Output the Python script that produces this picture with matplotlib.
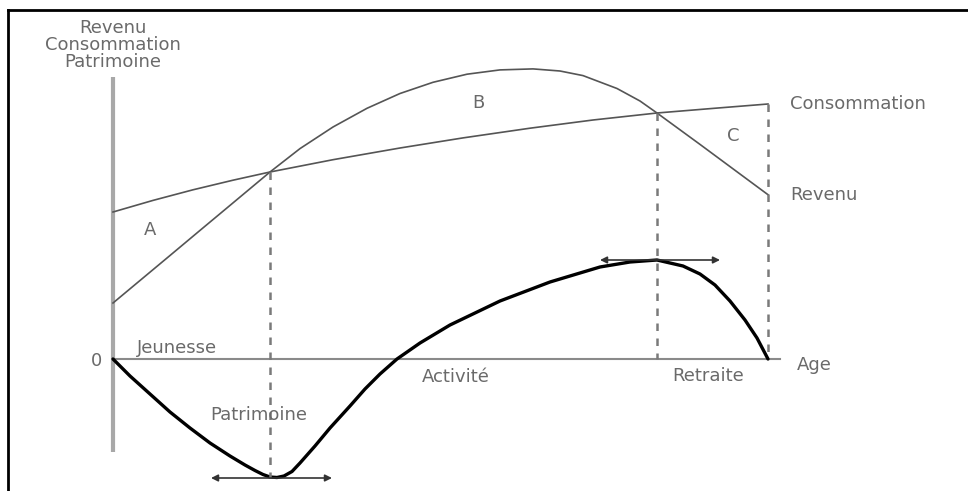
# Cycle de vie : revenu, consommation, patrimoine
import matplotlib.pyplot as plt
from matplotlib.lines import Line2D

age_conso = [0, 40, 80, 120, 157, 220, 287, 350, 417, 480, 544, 600, 655]
conso = [147, 158.6, 169.2, 178.8, 187, 199.3, 211, 221.1, 230.8, 239, 246, 250.6, 255]

age_revenu = [0, 27, 57, 87, 117, 137, 157, 187, 220, 254, 287, 320, 354, 387, 420, 447, 470, 504, 527, 544,
              587, 627, 655]
revenu = [56, 78.5, 103.5, 128.6, 153.6, 170.3, 187, 210.4, 232, 250.7, 265.5, 276.7, 284.8, 289.1, 290.1, 288,
          283.4, 270.5, 258, 246, 214.6, 185, 164.3]

age_patri = [0, 17, 37, 57, 77, 97, 117, 132, 142, 150, 157, 164, 171, 179, 187, 202, 217, 237, 252, 267, 284,
             307, 337, 387, 437, 487, 517, 544, 570, 587, 602, 617, 632, 644, 655]
patri = [0, -17, -35, -53, -69, -84, -97, -106, -111.5, -115.5, -118, -118.5, -117, -112.5, -104, -87, -69, -47,
         -30, -15, 0, 16, 34, 58, 77, 92, 97, 99, 93, 85, 74, 58, 39, 21, 0]

# Points remarquables
x_croise1, y_croise1 = 157, 187
x_croise2, y_croise2 = 544, 246
x_fin, y_fin = 655, 255
y_patri_min = -119
y_patri_max = 99

gris_txt = '#6a6a6a'
gris_trait = '#555555'
gris_tiret = '#7a7a7a'

fig = plt.figure(figsize=(9.68, 4.91), dpi=100)
ax = fig.add_axes([0, 0, 1, 1])
ax.set_xlim(-113, 855)
ax.set_ylim(-132, 359)
ax.axis('off')

# Axes du schema
ax.plot([0, 0], [-93, 282], color='#a8a8a8', lw=3, solid_capstyle='butt')
ax.plot([0, 667], [0, 0], color='#8a8a8a', lw=1.5)

# Courbes revenu et consommation
ax.plot(age_conso, conso, color=gris_trait, lw=1.2)
ax.plot(age_revenu, revenu, color=gris_trait, lw=1.2)

# Patrimoine
ax.plot(age_patri, patri, color='black', lw=2.4, solid_capstyle='round', solid_joinstyle='round')

# Pointilles verticaux
for xv, y0, y1 in [(x_croise1, y_croise1, y_patri_min), (x_croise2, y_croise2, 0), (x_fin, y_fin, 0)]:
    ax.plot([xv, xv], [y0, y1], color=gris_tiret, lw=1.8, ls=(0, (3, 3)))

# Fleches horizontales aux extremums du patrimoine
fleche = dict(arrowstyle='<|-|>', color='#333333', lw=1.2, mutation_scale=10, shrinkA=0, shrinkB=0)
ax.annotate('', xy=(98, y_patri_min), xytext=(219, y_patri_min), arrowprops=fleche)
ax.annotate('', xy=(487, y_patri_max), xytext=(607, y_patri_max), arrowprops=fleche)

# Textes
fs = 13
ax.text(0, 314, 'Revenu\nConsommation\nPatrimoine', ha='center', va='center', fontsize=fs,
        color=gris_txt, linespacing=0.95)
ax.text(677, 255, 'Consommation', ha='left', va='center', fontsize=fs, color=gris_txt)
ax.text(677, 164, 'Revenu', ha='left', va='center', fontsize=fs, color=gris_txt)
ax.text(684, -6, 'Age', ha='left', va='center', fontsize=fs, color=gris_txt)
ax.text(-16, -2, '0', ha='center', va='center', fontsize=fs, color=gris_txt)
ax.text(24, 11, 'Jeunesse', ha='left', va='center', fontsize=fs, color=gris_txt)
ax.text(309, -18, 'Activité', ha='left', va='center', fontsize=fs, color=gris_txt)
ax.text(559, -17, 'Retraite', ha='left', va='center', fontsize=fs, color=gris_txt)
ax.text(97, -56, 'Patrimoine', ha='left', va='center', fontsize=fs, color=gris_txt)
ax.text(37, 129, 'A', ha='center', va='center', fontsize=fs, color=gris_txt)
ax.text(365, 256, 'B', ha='center', va='center', fontsize=fs, color=gris_txt)
ax.text(620, 223, 'C', ha='center', va='center', fontsize=fs, color=gris_txt)

# Cadre (bord gauche et haut)
fig.add_artist(Line2D([8 / 968, 8 / 968], [0, 1 - 10 / 491], color='black', lw=2))
fig.add_artist(Line2D([8 / 968, 1], [1 - 10 / 491, 1 - 10 / 491], color='black', lw=2))

fig.savefig('out.png', dpi=100)
